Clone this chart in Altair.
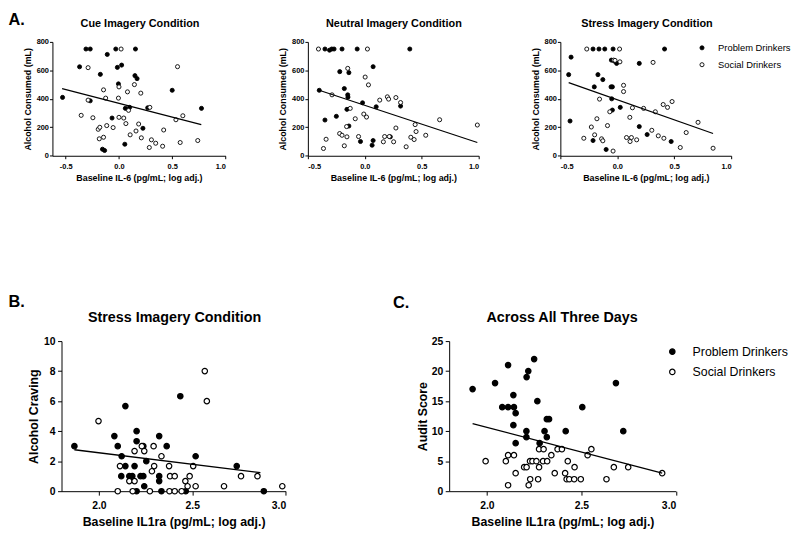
import altair as alt
import pandas as pd

FONT = "Liberation Sans"
GROUPS = ["Problem Drinkers", "Social Drinkers"]

# ---------------- A. Cue Imagery Condition ----------------
a1_prob_x = [-0.53, -0.37, -0.31, -0.27, -0.27, -0.175, -0.11, -0.155, -0.135, -0.065, -0.03, -0.015,
             -0.005, 0.025, 0.055, 0.06, 0.10, 0.155, 0.15, 0.17, 0.225, 0.27, 0.50, 0.775]
a1_prob_y = [410, 625, 750, 750, 386, 572, 712, 46, 37, 265, 750, 621,
             505, 637, 81, 333, 340, 750, 563, 542, 193, 337, 460, 333]
a1_soc_x = [0.02, -0.29, -0.29, -0.355, -0.245, -0.195, -0.18, -0.185, -0.145, -0.125, -0.145, -0.115,
            -0.055, -0.005, 0.0, 0.0, 0.045, 0.065, 0.08, 0.09, 0.105, 0.145, 0.16, 0.185, 0.205,
            0.21, 0.29, 0.285, 0.305, 0.345, 0.41, 0.42, 0.535, 0.55, 0.60, 0.575, 0.74]
a1_soc_y = [750, 619, 391, 284, 267, 186, 200, 119, 463, 405, 130, 212,
            198, 405, 484, 270, 265, 226, 449, 319, 147, 500, 174, 223, 440,
            126, 340, 58, 112, 88, 67, 181, 253, 626, 281, 93, 107]
a1_fit_x = [-0.534, 0.773]
a1_fit_y = [472, 219]

# ---------------- A. Neutral Imagery Condition ----------------
a2_prob_x = [-0.40, -0.35, -0.31, -0.29, -0.27, -0.35, -0.25, -0.22, -0.20, -0.18, -0.14, -0.15, -0.148,
             -0.157, -0.14, -0.067, -0.038, -0.02, 0.073, 0.073, 0.064, 0.10, 0.224, 0.314, 0.395]
a2_prob_y = [460, 750, 742, 750, 750, 251, 277, 591, 750, 472, 584, 428, 412,
             326, 209, 750, 100, 372, 626, 107, 74, 344, 133, 349, 750]
a2_soc_x = [-0.407, -0.363, -0.34, -0.288, -0.221, -0.20, -0.18, -0.16, -0.157, -0.15, -0.128, -0.084,
            -0.055, -0.009, 0.015, 0.003, 0.023, 0.032, 0.131, 0.163, 0.174, 0.198, 0.209, 0.215,
            0.253, 0.273, 0.273, 0.314, 0.363, 0.404, 0.433, 0.442, 0.45, 0.535, 0.657, 0.988]
a2_soc_y = [750, 51, 116, 428, 156, 144, 70, 205, 133, 614, 333, 260,
            135, 293, 272, 553, 750, 498, 391, 98, 135, 414, 398, 135,
            98, 409, 195, 374, 63, 130, 114, 219, 170, 144, 253, 216]
a2_fit_x = [-0.401, 0.988]
a2_fit_y = [460, 93]

# ---------------- A. Stress Imagery Condition ----------------
a3_prob_x = [-0.427, -0.406, -0.415, -0.213, -0.161, -0.11, -0.037, -0.202, -0.17, -0.127, -0.213, -0.098,
             -0.055, -0.043, -0.049, -0.043, -0.052, -0.026, -0.006, 0.026, 0.193, 0.193, 0.262, 0.415, 0.473]
a3_prob_y = [570, 693, 244, 750, 750, 750, 750, 484, 570, 535, 107, 44,
             484, 484, 400, 321, 672, 665, 649, 340, 649, 205, 149, 750, 100]
a3_soc_x = [-0.268, -0.294, -0.228, -0.199, -0.179, -0.156, -0.138, -0.127, -0.086, -0.066, -0.037, -0.032,
            -0.02, 0.02, 0.023, 0.055, 0.055, 0.081, 0.11, 0.112, 0.124, 0.133, 0.17, 0.231, 0.303,
            0.314, 0.334, 0.36, 0.403, 0.409, 0.441, 0.481, 0.553, 0.605, 0.709, 0.841]
a3_soc_y = [750, 123, 202, 147, 260, 398, 119, 105, 212, 309, 33, 672,
            670, 750, 660, 495, 451, 128, 270, 100, 128, 337, 112, 333, 179,
            656, 309, 140, 360, 123, 340, 381, 58, 163, 235, 53]
a3_fit_x = [-0.427, 0.841]
a3_fit_y = [514, 156]

# ---------------- B. Stress Imagery Condition (craving) ----------------
b_prob_x = [1.869, 2.083, 2.101, 2.122, 2.142, 2.142, 2.12, 2.163, 2.179, 2.191, 2.202, 2.202, 2.202, 2.223,
            2.238, 2.238, 2.243, 2.254, 2.323, 2.323, 2.323, 2.335, 2.363, 2.436, 2.465, 2.518, 2.738, 2.883]
b_prob_y = [3.0, 3.67, 3.0, 2.33, 5.67, 1.67, 1.0, 1.0, 1.0, 1.67, 4.0, 3.33, 0.0, 1.0,
            1.0, 3.0, 0.33, 2.0, 3.67, 1.0, 0.67, 0.0, 3.0, 6.33, 0.0, 2.33, 1.67, 0.0]
b_soc_x = [1.998, 2.101, 2.113, 2.163, 2.191, 2.181, 2.191, 2.23, 2.243, 2.284, 2.293, 2.296, 2.273, 2.335,
           2.376, 2.381, 2.406, 2.378, 2.406, 2.443, 2.463, 2.475, 2.486, 2.505, 2.518, 2.567, 2.578,
           2.67, 2.761, 2.849, 2.982]
b_soc_y = [4.67, 0.0, 1.67, 0.67, 0.67, 0.0, 2.67, 3.0, 2.67, 1.33, 3.0, 1.67, 0.0, 2.33,
           1.67, 1.0, 1.0, 0.0, 0.0, 0.0, 0.67, 0.33, 1.0, 1.67, 0.33, 8.0, 6.0,
           0.33, 1.0, 1.0, 0.33]
b_fit_x = [1.869, 2.865]
b_fit_y = [2.76, 1.23]

# ---------------- C. Across All Three Days (AUDIT) ----------------
c_prob_x = [1.924, 2.043, 2.081, 2.112, 2.112, 2.140, 2.143, 2.152, 2.140, 2.152, 2.210, 2.219, 2.209,
            2.209, 2.250, 2.267, 2.279, 2.305, 2.317, 2.329, 2.317, 2.417, 2.505, 2.683, 2.722]
c_prob_y = [17, 18, 14, 21, 14, 16, 14, 13, 11, 8, 19, 20, 10,
            9, 22, 15, 8, 10, 12, 12, 9, 10, 14, 18, 10]
c_soc_x = [1.993, 2.1, 2.112, 2.112, 2.143, 2.152, 2.197, 2.210, 2.221, 2.229, 2.228, 2.241, 2.262,
           2.276, 2.271, 2.276, 2.3, 2.297, 2.319, 2.341, 2.359, 2.374, 2.397, 2.428, 2.414, 2.422,
           2.436, 2.462, 2.497, 2.464, 2.533, 2.553, 2.633, 2.672, 2.748, 2.928]
c_soc_y = [5, 5, 6, 1, 6, 3, 4, 4, 1, 2, 5, 5, 5,
           4, 2, 7, 7, 5, 5, 6, 3, 7, 7, 5, 3, 2,
           2, 2, 2, 4, 6, 7, 2, 4, 4, 3]
c_fit_x = [1.924, 2.928]
c_fit_y = [11.24, 3.0]

A_XTICKS = [-0.5, 0.0, 0.5, 1.0]
A_YTICKS = [0, 200, 400, 600, 800]
BC_XTICKS = [2.0, 2.5, 3.0]
B_YTICKS = [0, 2, 4, 6, 8, 10]
C_YTICKS = [0, 5, 10, 15, 20, 25]

X_LABEL_EXPR = "replace(format(datum.value, '.1f'), '\u2212', '-')"


def points_df(px, py, sx, sy):
    return pd.DataFrame({
        "x": list(px) + list(sx),
        "y": list(py) + list(sy),
        "group": [GROUPS[0]] * len(px) + [GROUPS[1]] * len(sx),
    })


def text_layer(txt, x, y, size, align="center", weight="bold"):
    return alt.Chart(pd.DataFrame({"t": [txt]})).mark_text(
        font=FONT, fontSize=size, fontWeight=weight, align=align,
        baseline="alphabetic", color="black"
    ).encode(text="t:N", x=alt.value(x), y=alt.value(y))


def make_panel(px, py, sx, sy, fx, fy, width, height, xdomain, xticks, ydomain, yticks,
               xtitle, ytitle, title, title_x, title_y, big=False, letter=None,
               letter_x=0, letter_y=0, legend=None, ytitle_pad=3, inset=0):
    # inset: the plot area starts `inset` px right of the panel origin
    if big:
        lab, tit, tick, lpx, lpy, tpx, size, sw, lw, tsize = 10.5, 12.5, 4, 5.5, 2.5, 5, 30, 1.2, 1.3, 14.5
    else:
        lab, tit, tick, lpx, lpy, tpx, size, sw, lw, tsize = 7.5, 9, 3, 3.5, 1, 4, 17, 0.9, 1.2, 11
    xaxis = alt.Axis(values=xticks, tickCount=20, title=xtitle, labelExpr=X_LABEL_EXPR,
                     labelFontSize=lab, titleFontSize=tit, tickSize=tick, labelPadding=lpx,
                     titlePadding=tpx, labelOverlap=False)
    yaxis_kw = dict(values=yticks, tickCount=20, title=ytitle, format="d", labelFontSize=lab,
                    titleFontSize=tit, tickSize=tick, labelPadding=lpy, titlePadding=ytitle_pad,
                    labelOverlap=False)
    if inset:
        yaxis_kw["offset"] = -inset
    yaxis = alt.Axis(**yaxis_kw)
    if inset:
        xscale = alt.Scale(domain=xdomain, nice=False, zero=False, range=[inset, inset + width])
    else:
        xscale = alt.Scale(domain=xdomain, nice=False, zero=False)
    xenc = alt.X("x:Q", scale=xscale, axis=xaxis)
    yenc = alt.Y("y:Q", scale=alt.Scale(domain=ydomain, nice=False, zero=False), axis=yaxis)
    if legend is None:
        fill = alt.Fill("group:N", scale=alt.Scale(domain=GROUPS, range=["black", "white"]), legend=None)
    else:
        fill = alt.Fill("group:N", scale=alt.Scale(domain=GROUPS, range=["black", "white"]),
                        legend=alt.Legend(symbolSize=size, symbolStrokeWidth=sw, **legend))
    pts = alt.Chart(points_df(px, py, sx, sy)).mark_circle(
        size=size, stroke="black", strokeWidth=sw, opacity=1
    ).encode(x=xenc, y=yenc, fill=fill)
    fit = alt.Chart(pd.DataFrame({"x": fx, "y": fy})).mark_line(
        color="black", strokeWidth=lw
    ).encode(x="x:Q", y="y:Q")
    layers = [pts, fit, text_layer(title, inset + title_x, title_y, tsize)]
    if letter:
        layers.append(text_layer(letter, inset + letter_x, letter_y, 16.5, align="left"))
    return alt.layer(*layers).properties(width=width + inset, height=height)


def legend_opts(x, y, fsize, row_pad, label_off):
    return dict(orient="none", legendX=x, legendY=y, title=None, direction="vertical",
                labelFont=FONT, labelFontSize=fsize, labelColor="black", symbolType="circle",
                symbolStrokeColor="black", symbolOpacity=1, rowPadding=row_pad,
                labelOffset=label_off, padding=0, labelLimit=300)


A_H = 115.3
XT_A = "Baseline IL-6 (pg/mL; log adj.)"
YT_A = "Alcohol Consumed (mL)"
XT_BC = "Baseline IL1ra (pg/mL; log adj.)"

a1 = make_panel(a1_prob_x, a1_prob_y, a1_soc_x, a1_soc_y, a1_fit_x, a1_fit_y,
                175.2, A_H, [-0.625, 1.0], A_XTICKS, [0, 800], A_YTICKS, XT_A, YT_A,
                "Cue Imagery Condition", 88.7, -15.4, letter="A.", letter_x=-44.5, letter_y=-17.5,
                ytitle_pad=4)
a2 = make_panel(a2_prob_x, a2_prob_y, a2_soc_x, a2_soc_y, a2_fit_x, a2_fit_y,
                173, A_H, [-0.5, 1.0], A_XTICKS, [0, 800], A_YTICKS, XT_A, YT_A,
                "Neutral  Imagery Condition", 87.1, -15.0, ytitle_pad=4.5)
a3 = make_panel(a3_prob_x, a3_prob_y, a3_soc_x, a3_soc_y, a3_fit_x, a3_fit_y,
                173, A_H, [-0.5, 1.0], A_XTICKS, [0, 800], A_YTICKS, XT_A, YT_A,
                "Stress Imagery Condition", 87.7, -15.0, ytitle_pad=4,
                legend=legend_opts(138.7, 1.25, 9.5, 6.1, 11.5))
# B's plot starts 9.2 px right of A1's plot (both panels share the column origin)
b = make_panel(b_prob_x, b_prob_y, b_soc_x, b_soc_y, b_fit_x, b_fit_y,
               227, 152, [1.8, 3.0], BC_XTICKS, [0, 10], B_YTICKS, XT_BC, "Alcohol Craving",
               "Stress Imagery Condition", 114.5, -19.3, big=True, letter="B.",
               letter_x=-53.7, letter_y=-35, ytitle_pad=3, inset=9.2)
c = make_panel(c_prob_x, c_prob_y, c_soc_x, c_soc_y, c_fit_x, c_fit_y,
               229.5, 152, [1.8, 3.0], BC_XTICKS, [0, 25], C_YTICKS, XT_BC, "Audit Score",
               "Across All Three Days", 114.3, -19.3, big=True, letter="C.",
               letter_x=-56.8, letter_y=-34, ytitle_pad=2,
               legend=legend_opts(219.75, 4.45, 12.5, 7.5, 14.25))

top = alt.hconcat(a1, a2, a3, spacing=82.7, bounds="flush").resolve_scale(
    fill="independent").resolve_legend(fill="independent")
bottom = alt.hconcat(b, c, spacing=164.8, bounds="flush").resolve_scale(
    fill="independent").resolve_legend(fill="independent")

chart = alt.vconcat(top, bottom, spacing=112).resolve_scale(
    fill="independent").resolve_legend(fill="independent").properties(
    padding=0, background="white"
).configure_view(stroke=None).configure_axis(
    labelFont=FONT, titleFont=FONT, labelFontWeight="bold", titleFontWeight="bold",
    labelColor="black", titleColor="black", domainColor="black", tickColor="black",
    domainWidth=1, tickWidth=1, grid=False
)

chart.save("out.html", embed_options={"renderer": "svg", "actions": False})
